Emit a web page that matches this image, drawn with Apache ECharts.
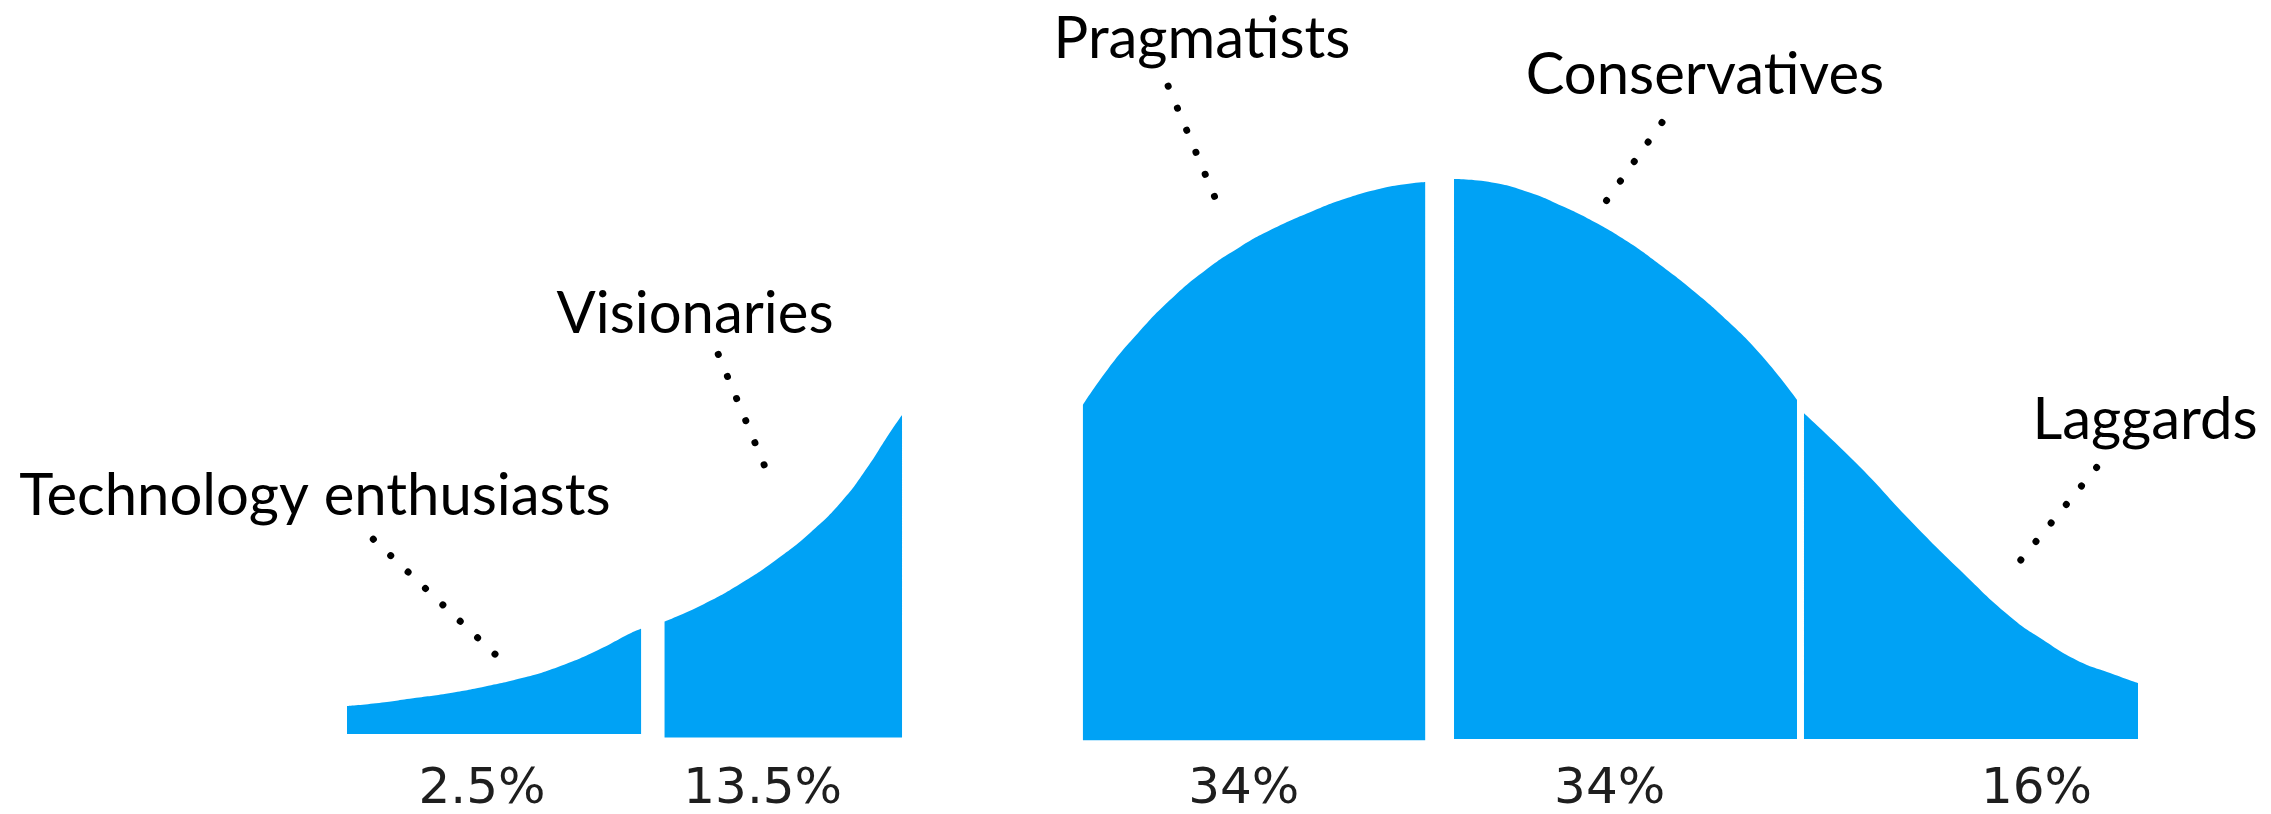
<!DOCTYPE html>
<html>
<head>
<meta charset="utf-8">
<title>Technology adoption life cycle</title>
<script src="https://cdn.jsdelivr.net/npm/echarts@6/dist/echarts.min.js"></script>
<style>
	html, body { margin: 0; padding: 0; background: #fff; }
	#chart { width: 2271px; height: 814px; }
</style>
</head>
<body>
<div id="chart"></div>
<script>
// adopter groups, left to right
var groupNames = [ 'Technology enthusiasts', 'Visionaries', 'Pragmatists', 'Conservatives', 'Laggards' ];
var groupShares = [ 2.5, 13.5, 34, 34, 16 ];

// curve outline of every group: [position, height], height 100 = top of the bell
var enthusiastsCurve = [ [ 0, 5.7 ], [ 1.62, 6.2 ], [ 3.69, 7.1 ], [ 5.7, 8.0 ], [ 7.71, 9.2 ], [ 9.77, 10.7 ], [ 11.78, 12.7 ], [ 13.82, 15.4 ], [ 15.86, 18.75 ], [ 16.42, 19.5 ] ];
var visionariesCurve = [ [ 17.73, 20.8 ], [ 19.91, 23.9 ], [ 21.94, 27.5 ], [ 23.95, 31.8 ], [ 25.85, 36.6 ], [ 27.64, 42.3 ], [ 29.03, 48.2 ], [ 30.26, 54.3 ], [ 30.99, 57.7 ] ];
var pragmatistsCurve = [ [ 41.09, 59.5 ], [ 42.49, 65.9 ], [ 44.17, 72.3 ], [ 45.95, 78.2 ], [ 47.91, 83.5 ], [ 49.86, 87.7 ], [ 51.81, 91.1 ], [ 53.77, 93.9 ], [ 55.72, 96.3 ], [ 57.68, 98.1 ], [ 59.07, 98.9 ], [ 60.2, 99.3 ] ];
var conservativesCurve = [ [ 61.81, 99.8 ], [ 63.93, 99.2 ], [ 65.94, 97.5 ], [ 67.84, 95.0 ], [ 69.68, 92.1 ], [ 71.52, 88.6 ], [ 73.31, 84.5 ], [ 75.27, 79.6 ], [ 77.11, 74.4 ], [ 79.01, 68.2 ], [ 80.96, 60.4 ] ];
var laggardsCurve = [ [ 81.35, 58.0 ], [ 84.48, 48.4 ], [ 87.27, 38.9 ], [ 90.06, 30.0 ], [ 92.85, 21.7 ], [ 94.71, 17.5 ], [ 96.58, 13.9 ], [ 98.44, 11.6 ], [ 100, 9.8 ] ];
// bottom edge of every piece (they are not quite level)
var baseLevels = [ 0.7, 0.1, -0.4, -0.2, -0.2 ];

// where the names sit, and the dotted pointers from name to curve
var nameSpots = [ [ -1.79, 43.0 ], [ 19.43, 75.5 ], [ 47.74, 124.6 ], [ 75.82, 118.2 ], [ 100.39, 56.6 ] ];
var pointerFrom = [ [ 1.47, 35.5 ], [ 20.73, 68.5 ], [ 45.85, 116.4 ], [ 73.42, 109.9 ], [ 97.69, 48.3 ] ];
var pointerTo = [ [ 8.32, 14.8 ], [ 23.3, 48.7 ], [ 48.45, 96.6 ], [ 70.31, 95.9 ], [ 93.41, 31.6 ] ];

// share labels under the curve
var shareSpotsX = [ 7.54, 23.21, 50.07, 70.5, 94.33 ];
var shareSpotY = -9.3;

var curves = [ enthusiastsCurve, visionariesCurve, pragmatistsCurve, conservativesCurve, laggardsCurve ];
var blue = '#00a2f5';

var chartDom = document.getElementById('chart');
var myChart = echarts.init(chartDom);

var series = [];

// the five blue pieces of the bell
curves.forEach(function(c, i) {
	series.push({
		name : groupNames[i],
		type : 'line',
		data : c,
		smooth : 0.5,
		showSymbol : false,
		silent : true,
		clip : false,
		lineStyle : {
			width : 0
		},
		areaStyle : {
			color : blue,
			opacity : 1,
			origin : baseLevels[i]
		}
	});
});

// dotted pointers
pointerFrom.forEach(function(p, i) {
	series.push({
		name : groupNames[i] + ' pointer',
		type : 'line',
		data : [ p, pointerTo[i] ],
		clip : false,
		showSymbol : false,
		silent : true,
		lineStyle : {
			color : '#000',
			width : 7,
			cap : 'round',
			type : [ 0.01, 23.9 ]
		}
	});
});

// text sits centred on its spot
var textLabel = function(font, size, colour) {
	return {
		show : true,
		position : 'top',
		distance : 0,
		align : 'center',
		verticalAlign : 'middle',
		formatter : '{b}',
		fontFamily : font,
		fontSize : size,
		color : colour,
		opacity : 1
	};
};

// group names
series.push({
	type : 'scatter',
	clip : false,
	silent : true,
	symbolSize : 1,
	itemStyle : {
		color : '#fff',
		opacity : 0
	},
	data : nameSpots.map(function(p, i) {
		return {
			value : p,
			name : groupNames[i]
		};
	}),
	label : textLabel('Lato', 58, '#000')
});

// shares
series.push({
	type : 'scatter',
	clip : false,
	silent : true,
	symbolSize : 1,
	itemStyle : {
		color : '#fff',
		opacity : 0
	},
	data : shareSpotsX.map(function(x, i) {
		return {
			value : [ x, shareSpotY ],
			name : groupShares[i] + '%'
		};
	}),
	label : textLabel('DejaVu Sans', 50, '#1e1e1e')
});

var option = {
	animation : false,
	backgroundColor : '#fff',
	grid : {
		left : 347,
		right : 133,
		top : 178,
		bottom : 76
	},
	xAxis : {
		type : 'value',
		min : 0,
		max : 100,
		show : false
	},
	yAxis : {
		type : 'value',
		min : 0,
		max : 100,
		show : false
	},
	series : series
};

myChart.setOption(option);
</script>
</body>
</html>
